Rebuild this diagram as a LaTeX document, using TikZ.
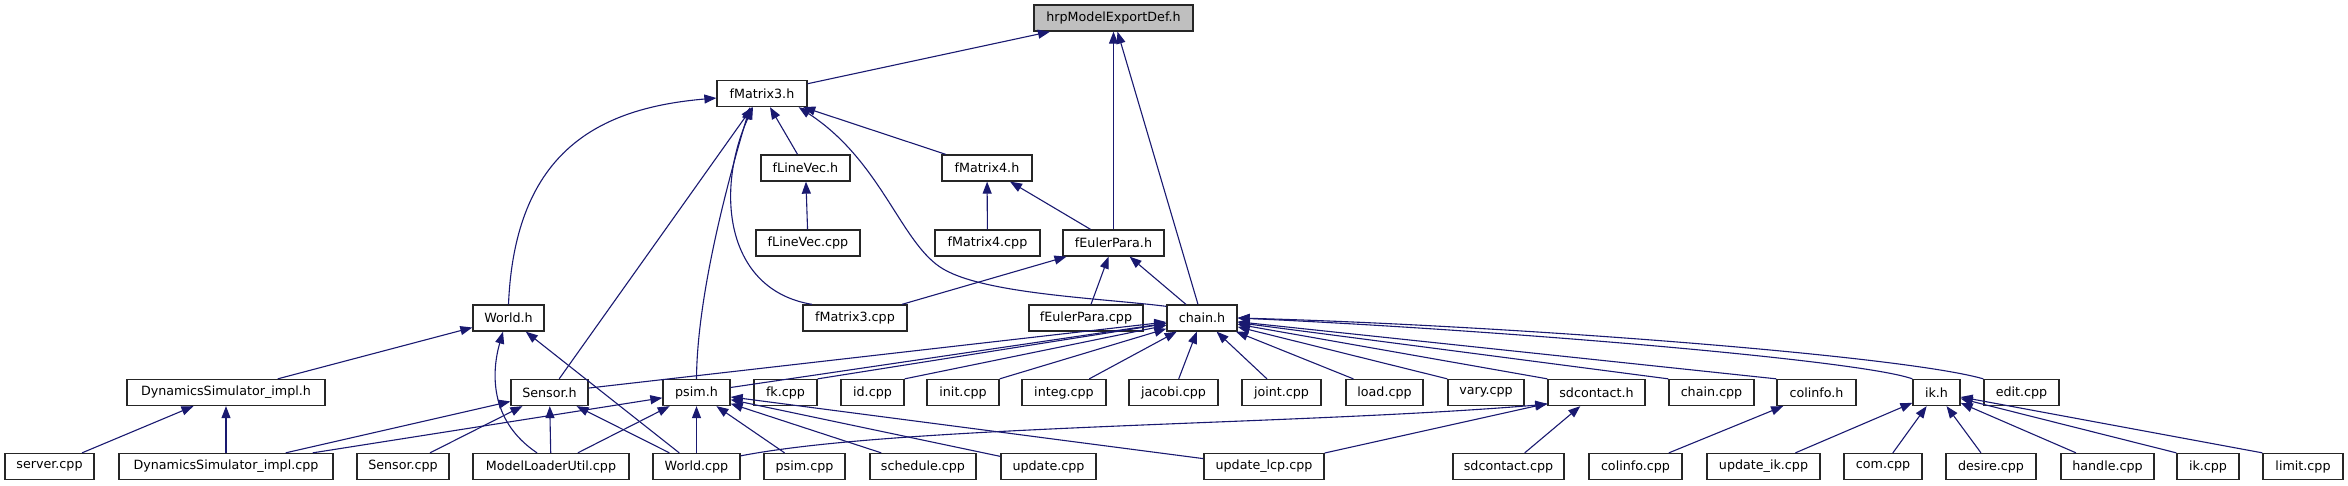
\documentclass[tikz,border=0pt]{standalone}
\usepackage{fontspec}
\setmainfont{DejaVu Sans}
\usetikzlibrary{arrows.meta}
\definecolor{edgeblue}{HTML}{191970}
\definecolor{rootgray}{HTML}{BFBFBF}
\begin{document}
\begin{tikzpicture}[x=1pt, y=-1pt,
		box/.style={draw=black!85, line width=1.3pt, fill=white, minimum height=26pt, inner sep=0pt, font=\fontsize{12.7}{14}\selectfont},
		dep/.style={<-, draw=edgeblue, line width=1.1pt},
		>={Triangle[length=12pt, width=9pt]}]
			\useasboundingbox (0,0) rectangle (2348,485);
			% files, row by row
			\node[box, fill=rootgray, minimum width=159pt] (hrp) at (1113.5,18) {hrpModelExportDef.h};
			\node[box, minimum width=90pt] (fMatrixThreeH) at (762,93.5) {fMatrix3.h};
			\node[box, minimum width=89pt] (fLineVecH) at (805.5,168) {fLineVec.h};
			\node[box, minimum width=90pt] (fMatrixFourH) at (987,168) {fMatrix4.h};
			\node[box, minimum width=104pt] (fLineVecCpp) at (808,243) {fLineVec.cpp};
			\node[box, minimum width=105pt] (fMatrixFourCpp) at (987.5,243) {fMatrix4.cpp};
			\node[box, minimum width=101pt] (fEulerParaH) at (1113.5,243) {fEulerPara.h};
			\node[box, minimum width=71pt] (worldH) at (508.5,318) {World.h};
			\node[box, minimum width=104pt] (fMatrixThreeCpp) at (855,318) {fMatrix3.cpp};
			\node[box, minimum width=114pt] (fEulerParaCpp) at (1086,318) {fEulerPara.cpp};
			\node[box, minimum width=70pt] (chainH) at (1202,318) {chain.h};
			\node[box, minimum width=198pt] (dynSimH) at (226,392.5) {DynamicsSimulator\_impl.h};
			\node[box, minimum width=77pt] (sensorH) at (549.5,392.5) {Sensor.h};
			\node[box, minimum width=67pt] (psimH) at (696.5,392.5) {psim.h};
			\node[box, minimum width=63pt] (fkCpp) at (785.5,392.5) {fk.cpp};
			\node[box, minimum width=63pt] (idCpp) at (872.5,392.5) {id.cpp};
			\node[box, minimum width=72pt] (initCpp) at (963,392.5) {init.cpp};
			\node[box, minimum width=84pt] (integCpp) at (1064,392.5) {integ.cpp};
			\node[box, minimum width=89pt] (jacobiCpp) at (1173.5,392.5) {jacobi.cpp};
			\node[box, minimum width=79pt] (jointCpp) at (1281.5,392.5) {joint.cpp};
			\node[box, minimum width=77pt] (loadCpp) at (1384.5,392.5) {load.cpp};
			\node[box, minimum width=76pt] (varyCpp) at (1486,392.5) {vary.cpp};
			\node[box, minimum width=97pt] (sdcontactH) at (1596.5,392.5) {sdcontact.h};
			\node[box, minimum width=85pt] (chainCpp) at (1711.5,392.5) {chain.cpp};
			\node[box, minimum width=79pt] (colinfoH) at (1816.5,392.5) {colinfo.h};
			\node[box, minimum width=47pt] (ikH) at (1936.5,392.5) {ik.h};
			\node[box, minimum width=75pt] (editCpp) at (2021.5,392.5) {edit.cpp};
			\node[box, minimum width=89pt] (serverCpp) at (49.5,466.5) {server.cpp};
			\node[box, minimum width=214pt] (dynSimCpp) at (226,466.5) {DynamicsSimulator\_impl.cpp};
			\node[box, minimum width=92pt] (sensorCpp) at (403,466.5) {Sensor.cpp};
			\node[box, minimum width=156pt] (mluCpp) at (551,466.5) {ModelLoaderUtil.cpp};
			\node[box, minimum width=87pt] (worldCpp) at (696.5,466.5) {World.cpp};
			\node[box, minimum width=81pt] (psimCpp) at (804.5,466.5) {psim.cpp};
			\node[box, minimum width=106pt] (scheduleCpp) at (923,466.5) {schedule.cpp};
			\node[box, minimum width=95pt] (updateCpp) at (1048.5,466.5) {update.cpp};
			\node[box, minimum width=120pt] (updateLcpCpp) at (1264,466.5) {update\_lcp.cpp};
			\node[box, minimum width=111pt] (sdcontactCpp) at (1508.5,466.5) {sdcontact.cpp};
			\node[box, minimum width=93pt] (colinfoCpp) at (1635.5,466.5) {colinfo.cpp};
			\node[box, minimum width=113pt] (updateIkCpp) at (1763.5,466.5) {update\_ik.cpp};
			\node[box, minimum width=78pt] (comCpp) at (1883,466.5) {com.cpp};
			\node[box, minimum width=90pt] (desireCpp) at (1991,466.5) {desire.cpp};
			\node[box, minimum width=93pt] (handleCpp) at (2107.5,466.5) {handle.cpp};
			\node[box, minimum width=62pt] (ikCpp) at (2208,466.5) {ik.cpp};
			\node[box, minimum width=80pt] (limitCpp) at (2303,466.5) {limit.cpp};
			% hrpModelExportDef.h
			\draw[dep] (hrp) -- (fMatrixThreeH);
			\draw[dep] (hrp) -- (fEulerParaH);
			\draw[dep] (hrp) -- (chainH);
			% fMatrix3.h
			\draw[dep] ([yshift=-4.5pt]fMatrixThreeH.west) .. controls (600,108) and (515,150) .. (worldH.north);
			\draw[dep] (fMatrixThreeH) -- (sensorH);
			\draw[dep] ([xshift=-12pt]fMatrixThreeH.south) .. controls (725,190) and (697,300) .. (psimH.north);
			\draw[dep] ([xshift=-9pt]fMatrixThreeH.south) .. controls (715,190) and (725,290) .. ([xshift=-43pt]fMatrixThreeCpp.north);
			\draw[dep] (fMatrixThreeH) -- (fLineVecH);
			\draw[dep] (fMatrixThreeH) -- (fMatrixFourH);
			\draw[dep] ([xshift=-9pt]fMatrixThreeH.south east) .. controls (880,160) and (900,240) .. (940,267) .. controls (980,294) and (1100,298) .. ([yshift=-2pt]chainH.north west);
			\draw[dep] (fLineVecH) -- (fLineVecCpp);
			\draw[dep] (fMatrixFourH) -- (fMatrixFourCpp);
			\draw[dep] (fMatrixFourH) -- (fEulerParaH);
			% fEulerPara.h
			\draw[dep] (fEulerParaH) -- (fMatrixThreeCpp);
			\draw[dep] (fEulerParaH) -- (fEulerParaCpp);
			\draw[dep] (fEulerParaH) -- (chainH);
			% World.h
			\draw[dep] (worldH) -- (dynSimH);
			\draw[dep] ([xshift=-5.5pt]worldH.south) .. controls (492,370) and (488,420) .. ([xshift=-14pt]mluCpp.north);
			\draw[dep] (worldH) -- (worldCpp);
			% chain.h
			\draw[dep] (chainH) -- (sensorH);
			\draw[dep] (chainH) -- (psimH);
			\draw[dep] (chainH) -- (fkCpp.north east);
			\draw[dep] (chainH) -- (idCpp.north east);
			\draw[dep] (chainH) -- (initCpp.north east);
			\draw[dep] (chainH) -- (integCpp);
			\draw[dep] (chainH) -- (jacobiCpp);
			\draw[dep] (chainH) -- (jointCpp);
			\draw[dep] (chainH) -- ([xshift=8pt]loadCpp.north west);
			\draw[dep] (chainH) -- (varyCpp.north west);
			\draw[dep] (chainH) -- (sdcontactH.north west);
			\draw[dep] (chainH) -- (chainCpp.north west);
			\draw[dep] (chainH) -- (colinfoH.north west);
			\draw[dep] (chainH.east) .. controls (1500,330) and (1860,360) .. (ikH.north west);
			\draw[dep] (chainH.east) .. controls (1500,325) and (1900,355) .. (editCpp.north west);
			% DynamicsSimulator_impl.h
			\draw[dep] (dynSimH) -- (serverCpp);
			\draw[dep] (dynSimH) -- (dynSimCpp);
			% Sensor.h
			\draw[dep] (sensorH) -- (dynSimCpp);
			\draw[dep] (sensorH) -- (sensorCpp);
			\draw[dep] (sensorH) -- (mluCpp);
			\draw[dep] (sensorH) -- (worldCpp);
			% psim.h
			\draw[dep] (psimH) -- (dynSimCpp);
			\draw[dep] (psimH) -- (mluCpp);
			\draw[dep] (psimH) -- (worldCpp);
			\draw[dep] (psimH) -- (psimCpp);
			\draw[dep] (psimH) -- (scheduleCpp);
			\draw[dep] (psimH) -- (updateCpp);
			\draw[dep] (psimH) -- (updateLcpCpp);
			% sdcontact.h
			\draw[dep] ([yshift=2pt]sdcontactH.south west) .. controls (1300,425) and (900,425) .. ([yshift=-3pt]worldCpp.north east);
			\draw[dep] (sdcontactH) -- (updateLcpCpp);
			\draw[dep] (sdcontactH) -- (sdcontactCpp);
			% colinfo.h
			\draw[dep] (colinfoH) -- (colinfoCpp);
			% ik.h
			\draw[dep] (ikH) -- (updateIkCpp);
			\draw[dep] (ikH) -- (comCpp);
			\draw[dep] (ikH) -- (desireCpp);
			\draw[dep] (ikH) -- (handleCpp);
			\draw[dep] (ikH) -- (ikCpp.north west);
			\draw[dep] (ikH) -- (limitCpp.north west);
		\end{tikzpicture}
\end{document}
